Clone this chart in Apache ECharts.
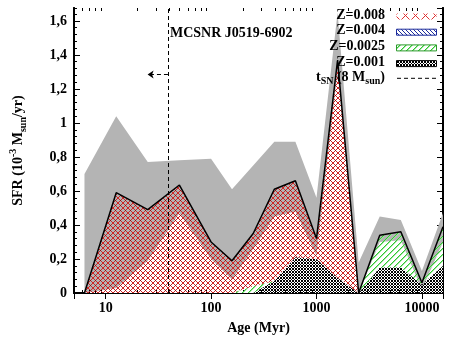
<!DOCTYPE html>
<html>
<head>
<meta charset="utf-8">
<script src="https://cdn.jsdelivr.net/npm/echarts@6/dist/echarts.min.js"></script>
<style>
  html, body { margin: 0; padding: 0; background: #fff; }
  #chart { width: 453px; height: 340px; }
</style>
</head>
<body>
<div id="chart"></div>
<script>
// SFH bins (age in Myr) and SFR in 1e-3 Msun/yr
const ages = [6.3, 12.6, 25.1, 50.1, 100, 158, 251, 398, 631, 1000, 1585, 2512, 3981, 6310, 10000, 15849]
const sfrTotal = [0, 0.59, 0.49, 0.635, 0.30, 0.19, 0.35, 0.61, 0.66, 0.32, 1.37, 0, 0.34, 0.36, 0.06, 0.39]
const sfrUpper = [0.70, 1.04, 0.77, 0.78, 0.79, 0.61, 0.75, 0.89, 0.89, 0.56, 1.65, 0.18, 0.45, 0.43, 0.13, 0.47]
const sfrLower = [0, 0.03, 0.19, 0.47, 0.20, 0.08, 0.26, 0.45, 0.48, 0.22, 1.30, 0, 0.30, 0.31, 0.02, 0.30]

// metallicity components (stacked from the bottom)
const z001 = [0, 0, 0, 0, 0, 0, 0, 0.07, 0.21, 0.20, 0.09, 0, 0.15, 0.15, 0.05, 0.16]
const z0025 = [0, 0, 0, 0, 0, 0, 0.04, 0, 0, 0, 0, 0, 0.19, 0.21, 0.01, 0.23]
const z004 = [0, 0, 0, 0, 0, 0, 0, 0, 0, 0, 0, 0, 0, 0, 0, 0]
const z008 = [0, 0.59, 0.49, 0.635, 0.30, 0.19, 0.31, 0.54, 0.45, 0.12, 1.28, 0, 0, 0, 0, 0]

// SN progenitor lifetime (8 Msun) and the arrow pointing to younger ages
const tSN = 39
const arrowEnd = 25
const arrowY = 1.285

// axes
const xMin = 5.012
const xMax = 15849
const yMax = 1.676
const xMinorTicks = [6, 7, 8, 9, 20, 30, 40, 50, 60, 70, 80, 90, 200, 300, 400, 500, 600, 700, 800, 900,
  2000, 3000, 4000, 5000, 6000, 7000, 8000, 9000]

const FONT = '"Liberation Serif", "DejaVu Serif", serif'

// small pixel tiles used as repeating hatch fills
function hatch(size, paint) {
  const c = document.createElement('canvas')
  c.width = size
  c.height = size
  const ctx = c.getContext('2d')
  for (let y = 0; y < size; y++) {
    for (let x = 0; x < size; x++) {
      const col = paint(x, y)
      if (col) {
        ctx.fillStyle = col
        ctx.fillRect(x, y, 1, 1)
      }
    }
  }
  return { image: c, repeat: 'repeat' }
}

function crossHatch(s, color, dot) {
  return hatch(s, (x, y) => {
    const a = (x + y) % s === 0
    const b = (x - y + s) % s === 0
    if (a && b) return dot
    return a || b ? color : null
  })
}

const redHatch = crossHatch(5, '#d02424', '#8a0c0c')
const redSwatch = crossHatch(10, '#e03030', '#e03030')
const blueHatch = hatch(4, (x, y) => ((x - y + 4) % 4 === 0 ? '#1c2c9c' : null))
const greenHatch = hatch(6, (x, y) => ((x + y) % 6 === 0 ? '#2fc82f' : (x + y) % 6 === 1 ? '#9ee69e' : null))
const blackHatch = crossHatch(3, '#000000', '#000000')

const layers = [
  { name: 'Z=0.001', values: z001, fill: blackHatch },
  { name: 'Z=0.0025', values: z0025, fill: greenHatch },
  { name: 'Z=0.004', values: z004, fill: blueHatch },
  { name: 'Z=0.008', values: z008, fill: redHatch },
]

// cumulative edges of each metallicity layer
let base = ages.map(() => 0)
const layerEdges = layers.map(l => {
  const bottom = base
  const top = base.map((b, i) => b + l.values[i])
  base = top
  return { bottom, top }
})

const textStyle = { color: '#000', fontFamily: FONT, fontSize: 14, fontWeight: 'bold' }
const axisLine = { show: true, lineStyle: { color: '#000', width: 2 } }

// legend (right aligned text, swatch on the right)
const legendRows = [
  { label: 'Z=0.008', fill: redSwatch, border: null },
  { label: 'Z=0.004', fill: blueHatch, border: '#1c2c9c' },
  { label: 'Z=0.0025', fill: greenHatch, border: '#2a9a2a' },
  { label: 'Z=0.001', fill: blackHatch, border: '#000' },
]
const legendGraphics = []
legendRows.forEach((r, i) => {
  const y = 15 + i * 15.7
  legendGraphics.push({
    type: 'text', x: 385, y: y, silent: true, z: 10,
    style: { text: r.label, fill: '#000', font: 'bold 14px ' + FONT, textAlign: 'right', textVerticalAlign: 'middle' },
  })
  legendGraphics.push({
    type: 'rect', silent: true, z: 10,
    shape: { x: 396.5, y: y - 1.5, width: 40, height: 6 },
    style: { fill: r.fill, stroke: r.border, lineWidth: r.border ? 1 : 0 },
  })
})
legendGraphics.push({
  type: 'text', x: 385, y: 15 + 4 * 15.7, silent: true, z: 10,
  style: {
    text: '{n|t}{s|SN}{n| (8 M}{s|sun}{n|)}',
    textAlign: 'right', textVerticalAlign: 'middle',
    rich: {
      n: { fill: '#000', font: 'bold 14px ' + FONT, lineHeight: 18, verticalAlign: 'middle' },
      s: { fill: '#000', font: 'bold 10px ' + FONT, lineHeight: 18, verticalAlign: 'bottom' },
    },
  },
})
legendGraphics.push({
  type: 'line', silent: true, z: 10,
  shape: { x1: 397, y1: 15 + 4 * 15.7 + 0.5, x2: 437, y2: 15 + 4 * 15.7 + 0.5 },
  style: { stroke: '#000', lineWidth: 1, lineDash: [4, 3] },
})
legendGraphics.push({
  type: 'text', x: 170, y: 33, silent: true, z: 10,
  style: { text: 'MCSNR J0519-6902', fill: '#000', font: 'bold 14px ' + FONT, textVerticalAlign: 'middle' },
})

const chart = echarts.init(document.getElementById('chart'))
chart.setOption({
  animation: false,
  grid: { left: 69, right: 10, top: 8, bottom: 45 },
  xAxis: [
    {
      type: 'log', logBase: 10, min: xMin, max: xMax, position: 'bottom',
      axisLine, axisTick: { inside: true, length: 6, lineStyle: { color: '#000', width: 1 } },
      axisLabel: { ...textStyle, margin: 8, showMinLabel: false, showMaxLabel: false, formatter: v => String(Math.round(v)) },
      splitLine: { show: false },
      name: 'Age (Myr)', nameLocation: 'middle', nameGap: 28,
      nameTextStyle: textStyle,
    },
    {
      type: 'log', logBase: 10, min: xMin, max: xMax, position: 'top',
      axisLine, axisTick: { inside: true, length: 6, lineStyle: { color: '#000', width: 1 } },
      axisLabel: { show: false }, splitLine: { show: false },
    },
  ],
  yAxis: [
    {
      type: 'value', min: 0, max: yMax, interval: 0.2, position: 'left',
      axisLine, axisTick: { inside: true, length: 6, lineStyle: { color: '#000', width: 1 } },
      axisLabel: {
        ...textStyle, margin: 7, showMaxLabel: false,
        formatter: v => String(Math.round(v * 10) / 10).replace('.', ','),
      },
      splitLine: { show: false },
      name: '{n|SFR (10}{sup|-3}{n| M}{sub|sun}{n|/yr)}', nameLocation: 'middle', nameGap: 46, nameRotate: 90,
      nameTextStyle: {
        rich: {
          n: { ...textStyle, lineHeight: 20, verticalAlign: 'middle' },
          sup: { ...textStyle, fontSize: 10, lineHeight: 20, verticalAlign: 'top' },
          sub: { ...textStyle, fontSize: 10, lineHeight: 20, verticalAlign: 'bottom' },
        },
      },
    },
    {
      type: 'value', min: 0, max: yMax, interval: 0.04, position: 'left',
      axisLine, axisTick: { inside: true, length: 3, lineStyle: { color: '#000', width: 1 } },
      axisLabel: { show: false }, splitLine: { show: false },
    },
    {
      type: 'value', min: 0, max: yMax, interval: 0.2, position: 'right',
      axisLine, axisTick: { inside: true, length: 6, lineStyle: { color: '#000', width: 1 } },
      axisLabel: { show: false }, splitLine: { show: false },
    },
    {
      type: 'value', min: 0, max: yMax, interval: 0.04, position: 'right',
      axisLine, axisTick: { inside: true, length: 3, lineStyle: { color: '#000', width: 1 } },
      axisLabel: { show: false }, splitLine: { show: false },
    },
  ],
  series: [
    // uncertainty band: grey up to the upper bound, white below the lower bound
    {
      type: 'line', silent: true, symbol: 'none', z: 1,
      data: ages.map((a, i) => [a, sfrUpper[i]]),
      lineStyle: { width: 0, opacity: 0 },
      areaStyle: { color: '#b4b4b4', opacity: 1 },
    },
    {
      type: 'line', silent: true, symbol: 'none', z: 1,
      data: ages.map((a, i) => [a, sfrLower[i]]),
      lineStyle: { width: 0, opacity: 0 },
      areaStyle: { color: '#ffffff', opacity: 1 },
    },
    {
      type: 'line', name: 'total', silent: true, symbol: 'none', z: 4,
      data: ages.map((a, i) => [a, sfrTotal[i]]),
      lineStyle: { color: '#000', width: 1.5 },
      markLine: {
        silent: true, animation: false, symbol: ['none', 'none'],
        label: { show: false },
        lineStyle: { color: '#000', width: 1, type: [4, 3] },
        data: [
          { xAxis: tSN },
          [
            { coord: [tSN, arrowY], symbol: 'none' },
            { coord: [arrowEnd, arrowY], symbol: 'arrow', symbolSize: 6 },
          ],
        ],
      },
    },
    // minor ticks of the log axis, bottom and top
    {
      type: 'custom', coordinateSystem: 'cartesian2d', silent: true, clip: false,
      data: xMinorTicks.map(v => [v, 0]),
      encode: { x: 0, y: 1 },
      renderItem(params, api) {
        const p = api.coord([api.value(0), 0])
        const x = Math.round(p[0]) + 0.5
        const top = params.coordSys.y
        const st = { stroke: '#000', lineWidth: 1 }
        return {
          type: 'group',
          children: [
            { type: 'line', shape: { x1: x, y1: p[1], x2: x, y2: p[1] - 3 }, style: st },
            { type: 'line', shape: { x1: x, y1: top, x2: x, y2: top + 3 }, style: st },
          ],
        }
      },
    },
  ],
})

// hatched metallicity layers, placed through the chart's own axis conversion
const toPx = v => chart.convertToPixel({ xAxisIndex: 0, yAxisIndex: 0 }, v)
const layerGraphics = layers.map((l, k) => {
  const e = layerEdges[k]
  const pts = []
  for (let i = 0; i < ages.length; i++) pts.push(toPx([ages[i], e.top[i]]))
  for (let i = ages.length - 1; i >= 0; i--) pts.push(toPx([ages[i], e.bottom[i]]))
  return { type: 'polygon', silent: true, z: 3, shape: { points: pts }, style: { fill: l.fill } }
})
chart.setOption({ graphic: legendGraphics.concat(layerGraphics) })
</script>
</body>
</html>
